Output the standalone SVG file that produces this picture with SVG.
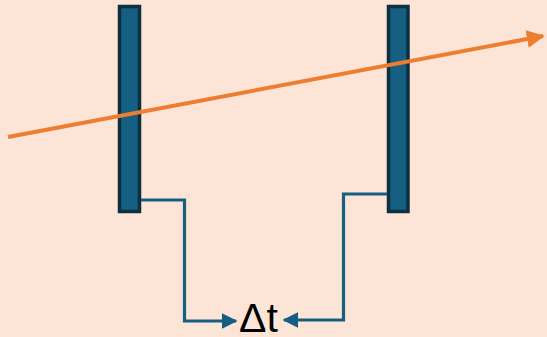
<svg xmlns="http://www.w3.org/2000/svg" width="547" height="337" viewBox="0 0 547 337">
<style>
.bar{fill:#156082;stroke:#0E2F40;stroke-width:3.5}
.conn{fill:none;stroke:#156082;stroke-width:3.2}
.ray{fill:none;stroke:#ED7D31;stroke-width:4}
.lbl{font-family:"Liberation Sans",Arial,sans-serif;font-size:41px;fill:#000}
</style>
<defs>
<marker id="ab" viewBox="0 0 10 10" refX="9" refY="5" markerWidth="5" markerHeight="5" orient="auto" markerUnits="strokeWidth"><path d="M0,0 L10,5 L0,10 Z" fill="#156082"/></marker>
<marker id="ao" viewBox="0 0 10 10" refX="9" refY="5" markerWidth="4.5" markerHeight="4.5" orient="auto" markerUnits="strokeWidth"><path d="M0,0 L10,5 L0,10 Z" fill="#ED7D31"/></marker>
</defs>
<rect width="547" height="337" fill="#FCE4D6"/>
<g id="bar-left"><rect class="bar" x="119.5" y="6.5" width="20" height="205"/></g>
<g id="bar-right"><rect class="bar" x="388.5" y="6.5" width="19.5" height="205"/></g>
<g id="connectors">
<polyline class="conn" points="141,200 184.5,200 184.5,321 236,321" marker-end="url(#ab)"/>
<polyline class="conn" points="387,194 343.5,194 343.5,320 284,320" marker-end="url(#ab)"/>
<line class="ray" x1="8" y1="137" x2="543" y2="36" marker-end="url(#ao)"/>
</g>
<g id="label"><text class="lbl" x="239" y="332">Δt</text></g>
</svg>
